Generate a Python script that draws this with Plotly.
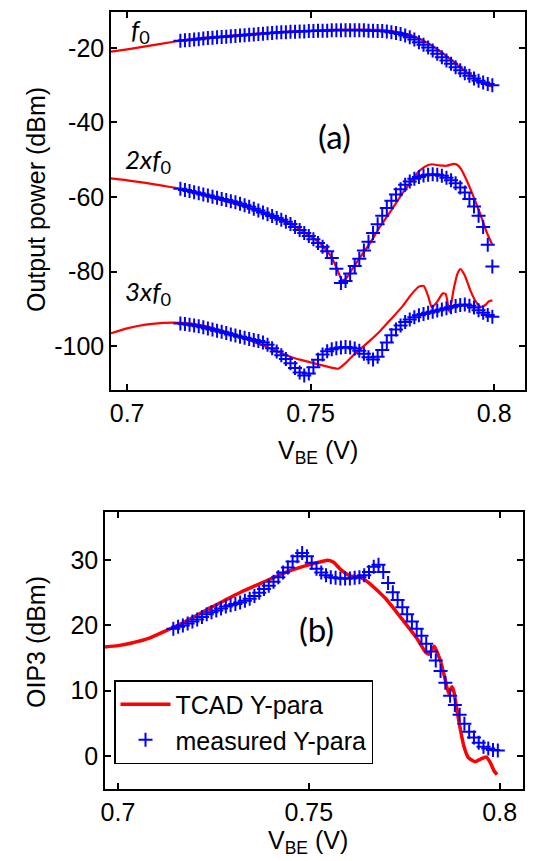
import plotly.graph_objects as go

# ---------------- data ----------------
vbe_meas = [0.7145, 0.71575, 0.717, 0.71825, 0.7195, 0.72075, 0.722, 0.72325, 0.7245, 0.72575,
            0.727, 0.72825, 0.7295, 0.73075, 0.732, 0.73325, 0.7345, 0.73575, 0.737, 0.73825,
            0.7395, 0.74075, 0.742, 0.74325, 0.7445, 0.74575, 0.747, 0.74825, 0.7495, 0.75075,
            0.752, 0.75325, 0.7545, 0.75575, 0.757, 0.75825, 0.7595, 0.76075, 0.762, 0.76325,
            0.7645, 0.76575, 0.767, 0.76825, 0.7695, 0.77075, 0.772, 0.77325, 0.7745, 0.77575,
            0.777, 0.77825, 0.7795, 0.78075, 0.782, 0.78325, 0.7845, 0.78575, 0.787, 0.78825,
            0.7895, 0.79075, 0.792, 0.79325, 0.7945, 0.79575, 0.797, 0.79825, 0.7995]

meas_f0 = [-18.1, -18.0, -17.9, -17.8, -17.7, -17.5, -17.4, -17.3, -17.2, -17.1,
           -17.0, -16.9, -16.8, -16.7, -16.6, -16.5, -16.4, -16.3, -16.2, -16.1,
           -16.0, -15.9, -15.8, -15.8, -15.7, -15.7, -15.6, -15.6, -15.5, -15.5,
           -15.4, -15.4, -15.4, -15.3, -15.3, -15.3, -15.3, -15.3, -15.3, -15.3,
           -15.3, -15.4, -15.4, -15.5, -15.5, -15.6, -15.8, -16.0, -16.3, -16.7,
           -17.2, -17.8, -18.5, -19.2, -19.9, -20.7, -21.6, -22.5, -23.4, -24.3,
           -25.2, -26.0, -26.8, -27.5, -28.2, -28.8, -29.3, -29.7, -30.0]

meas_2f0 = [-57.8, -58.1, -58.4, -58.7, -59.0, -59.3, -59.6, -59.9, -60.2, -60.5,
            -60.8, -61.1, -61.4, -61.8, -62.2, -62.6, -63.1, -63.6, -64.1, -64.6,
            -65.1, -65.6, -66.1, -66.6, -67.2, -68.0, -68.8, -69.6, -70.4, -71.3,
            -72.3, -73.3, -74.5, -76.3, -79.2, -83.0, -82.5, -80.5, -78.5, -76.5,
            -74.3, -72.0, -69.6, -67.3, -65.0, -62.9, -61.0, -59.3, -57.9, -56.7,
            -55.8, -55.1, -54.6, -54.2, -54.0, -53.9, -54.0, -54.3, -54.8, -55.5,
            -56.3, -57.4, -58.8, -60.5, -62.5, -65.0, -68.0, -72.8, -78.6]

meas_3f0 = [-93.9, -94.0, -94.2, -94.4, -94.6, -94.9, -95.2, -95.5, -95.8, -96.1,
            -96.4, -96.8, -97.1, -97.4, -97.7, -98.0, -98.3, -98.6, -99.0, -99.6,
            -100.5, -101.4, -102.4, -103.4, -104.5, -105.8, -107.0, -107.8, -107.3, -105.6,
            -103.6, -102.2, -101.3, -100.8, -100.5, -100.3, -100.2, -100.3, -100.6, -101.2,
            -102.0, -102.9, -103.5, -102.8, -101.0, -99.0, -97.0, -95.5, -94.4, -93.5,
            -92.8, -92.2, -91.7, -91.3, -91.0, -90.7, -90.4, -90.1, -89.8, -89.5,
            -89.2, -88.9, -88.8, -89.1, -89.6, -90.3, -91.0, -91.6, -92.1]

meas_oip3 = [19.5, 19.8, 20.0, 20.3, 20.6, 20.9, 21.3, 21.7, 22.0, 22.3,
             22.6, 22.9, 23.1, 23.3, 23.5, 23.8, 24.1, 24.5, 25.0, 25.6,
             26.1, 26.7, 27.4, 28.1, 28.9, 29.8, 30.6, 31.1, 30.6, 29.6,
             28.7, 28.1, 27.7, 27.4, 27.3, 27.2, 27.2, 27.2, 27.3, 27.4,
             27.7, 28.2, 29.0, 29.3, 28.2, 26.5, 25.1, 23.9, 22.8, 21.7,
             20.6, 19.5, 18.4, 17.2, 16.0, 14.6, 13.0, 11.2, 9.2, 7.8,
             6.3, 4.9, 3.7, 2.8, 2.0, 1.4, 1.1, 0.9, 0.8]

tcad_f0_v = [0.6956, 0.700, 0.705, 0.710, 0.7145, 0.720, 0.725, 0.730, 0.735, 0.740,
             0.745, 0.750, 0.755, 0.760, 0.765, 0.769, 0.772, 0.775, 0.778, 0.781,
             0.784, 0.787, 0.790, 0.793, 0.796, 0.798, 0.7995]
tcad_f0 = [-21.0, -20.4, -19.6, -18.8, -18.1, -17.4, -17.0, -16.6, -16.2, -15.9,
           -15.6, -15.4, -15.2, -15.1, -15.1, -15.2, -15.5, -16.0, -16.9, -18.2,
           -20.0, -22.2, -24.6, -26.9, -28.9, -29.9, -30.4]

tcad_2f0_v = [0.6956, 0.700, 0.705, 0.710, 0.7145, 0.720, 0.725, 0.730, 0.735, 0.740,
              0.745, 0.750, 0.753, 0.7555, 0.757, 0.7585, 0.7595, 0.761, 0.763, 0.766,
              0.769, 0.772, 0.775, 0.777, 0.779, 0.781, 0.783, 0.785, 0.787, 0.789,
              0.790, 0.791, 0.7925, 0.794, 0.796, 0.798, 0.7995]
tcad_2f0 = [-55.0, -55.5, -56.2, -57.0, -57.8, -59.2, -60.6, -62.0, -63.5, -65.3,
            -67.5, -70.5, -72.8, -75.8, -78.8, -82.2, -82.0, -79.8, -76.8, -72.6,
            -67.8, -63.5, -59.0, -56.3, -53.6, -51.9, -51.2, -51.5, -51.6, -51.1,
            -51.4, -52.5, -55.5, -59.0, -64.0, -69.5, -72.8]

tcad_3f0_v = [0.6956, 0.700, 0.705, 0.710, 0.715, 0.720, 0.725, 0.730, 0.735, 0.740,
              0.745, 0.750, 0.754, 0.7575, 0.7595, 0.761, 0.763, 0.766, 0.769, 0.772,
              0.775, 0.7775, 0.7795, 0.7808, 0.782, 0.783, 0.7845, 0.786, 0.7868, 0.7878,
              0.789, 0.790, 0.7908, 0.792, 0.7935, 0.795, 0.7963, 0.7975, 0.7985, 0.7995]
tcad_3f0 = [-96.5, -95.2, -94.2, -93.7, -93.7, -94.3, -95.6, -97.1, -99.0, -101.0,
            -103.0, -104.3, -105.3, -106.0, -104.5, -103.0, -101.2, -98.6, -95.8, -92.6,
            -89.3, -86.0, -84.0, -83.8, -86.5, -89.6, -88.0, -85.8, -86.0, -90.8,
            -84.5, -80.5, -79.3, -81.0, -85.0, -88.0, -89.4, -89.0, -88.0, -87.7]

tcad_oip3_v = [0.6966, 0.700, 0.7036, 0.708, 0.7119, 0.716, 0.7202, 0.7245, 0.7285, 0.7325,
               0.7368, 0.741, 0.7451, 0.7495, 0.7534, 0.755, 0.7565, 0.7583, 0.7608, 0.7633,
               0.7658, 0.770, 0.7741, 0.7782, 0.7807, 0.7815, 0.7828, 0.7845, 0.7858, 0.7866,
               0.7875, 0.788, 0.7888, 0.7897, 0.7906, 0.7918, 0.7935, 0.795, 0.7965, 0.7975,
               0.7985, 0.7993]
tcad_oip3 = [16.7, 16.9, 17.3, 18.0, 19.0, 20.1, 21.4, 22.8, 24.0, 25.2,
             26.3, 27.4, 28.4, 29.2, 29.8, 30.0, 29.7, 28.6, 27.6, 27.4,
             26.5, 24.2, 21.2, 18.1, 15.8, 15.6, 16.8, 14.5, 11.5, 9.6,
             10.6, 9.8, 7.0, 4.0, 1.5, -0.3, -0.9, -0.5, -0.2, -1.0,
             -2.3, -2.9]

x_ticks = [0.7, 0.75, 0.8]
x_ticktext = ["0.7", "0.75", "0.8"]
y1_ticks = [-100, -80, -60, -40, -20]
y1_ticktext = ["-100", "-80", "-60", "-40", "-20"]
y2_ticks = [0, 10, 20, 30]
y2_ticktext = ["0", "10", "20", "30"]

# ---------------- figure ----------------
W, H = 548, 861
RED = "rgb(255,0,0)"
BLUE = "rgb(0,0,255)"
TFONT = dict(family="Liberation Sans, Arial, sans-serif", size=25, color="black")
LFONT = dict(family="Lato, Calibri, sans-serif", size=26, color="black")

fig = go.Figure()

def red(x, y, xa, ya, width, show=False, name=None):
    fig.add_trace(go.Scatter(x=x, y=y, mode="lines", xaxis=xa, yaxis=ya,
                             line=dict(color=RED, width=width, shape="spline", smoothing=0.5),
                             showlegend=show, name=name))

def blue(y, xa, ya, show=False, name=None):
    fig.add_trace(go.Scatter(x=vbe_meas, y=y, mode="markers", xaxis=xa, yaxis=ya,
                             marker=dict(symbol="cross-thin", size=10, color=BLUE,
                                         line=dict(color=BLUE, width=2)),
                             showlegend=show, name=name))

red(tcad_f0_v, tcad_f0, "x", "y", 2.2)
red(tcad_2f0_v, tcad_2f0, "x", "y", 2.2)
red(tcad_3f0_v, tcad_3f0, "x", "y", 2.2)
blue(meas_f0, "x", "y")
blue(meas_2f0, "x", "y")
blue(meas_3f0, "x", "y")

red(tcad_oip3_v, tcad_oip3, "x2", "y2", 3.5, True, "TCAD Y-para")
blue(meas_oip3, "x2", "y2", True, "measured Y-para")

axis_common = dict(showline=True, linecolor="black", linewidth=1.5, mirror="ticks",
                   ticks="inside", ticklen=6, tickwidth=1.5, tickcolor="black",
                   showgrid=False, zeroline=False, tickfont=TFONT, automargin=False)

fig.update_layout(
    width=W, height=H,
    margin=dict(l=0, r=0, t=0, b=0),
    paper_bgcolor="white", plot_bgcolor="white",
    xaxis=dict(domain=[103 / W, 517 / W], range=[0.6956, 0.8084], anchor="y",
               tickvals=x_ticks, ticktext=x_ticktext, **axis_common),
    yaxis=dict(domain=[1 - 382 / H, 1 - 4 / H], range=[-111.7, -10.4], anchor="x",
               tickvals=y1_ticks, ticktext=y1_ticktext, **axis_common),
    xaxis2=dict(domain=[97 / W, 515 / W], range=[0.6966, 0.8061], anchor="y2",
                tickvals=x_ticks, ticktext=x_ticktext, **axis_common),
    yaxis2=dict(domain=[1 - 781 / H, 1 - 504 / H], range=[-5.1, 37.4], anchor="x2",
                tickvals=y2_ticks, ticktext=y2_ticktext, **axis_common),
    legend=dict(x=106 / W, y=1 - 672 / H, xanchor="left", yanchor="top",
                bordercolor="black", borderwidth=1.5, bgcolor="white",
                font=TFONT, itemwidth=50, tracegroupgap=0),
    showlegend=True,
)

def ann(text, px, py, font, angle=0):
    fig.add_annotation(text=text, x=px / W, y=1 - py / H, xref="paper", yref="paper",
                       showarrow=False, font=font, textangle=angle,
                       xanchor="center", yanchor="middle")

ann("Output power (dBm)", 28, 192, TFONT, -90)
ann("OIP3 (dBm)", 28, 634, TFONT, -90)
ann("V<sub>BE</sub> (V)", 310, 444, TFONT)
ann("V<sub>BE</sub> (V)", 300, 834, TFONT)
ann("(a)", 326, 128, dict(family="Lato, Calibri, sans-serif", size=33, color="black"))
ann("(b)", 308, 621, dict(family="Lato, Calibri, sans-serif", size=33, color="black"))
ann("<i>f</i><sub>0</sub>", 132, 22, LFONT)
ann("<i>2xf</i><sub>0</sub>", 140, 152, LFONT)
ann("<i>3xf</i><sub>0</sub>", 140, 285, LFONT)

fig.write_html("out.html")
